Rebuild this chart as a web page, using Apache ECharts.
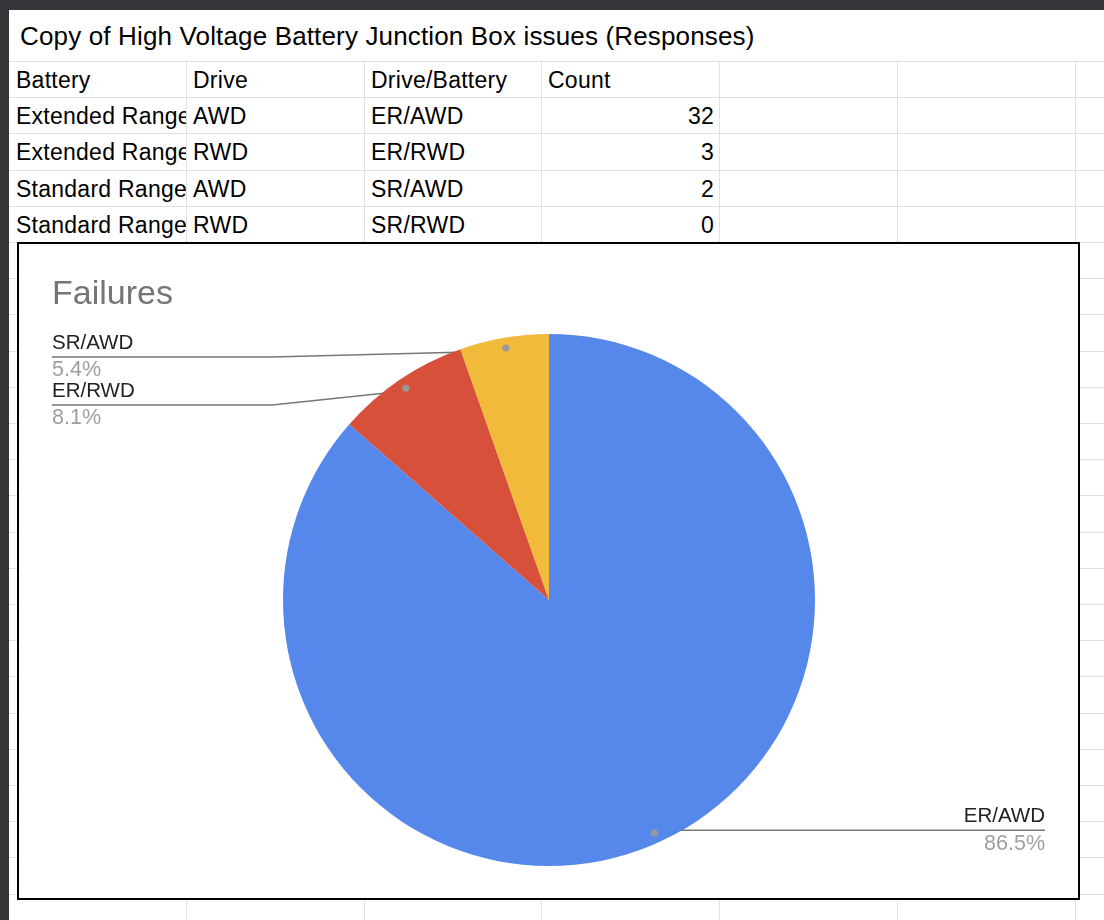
<!DOCTYPE html>
<html><head><meta charset="utf-8">
<script src="https://cdn.jsdelivr.net/npm/echarts@6/dist/echarts.min.js"></script>
<style>
html,body{margin:0;padding:0;width:1104px;height:920px;overflow:hidden;background:#35363a;font-family:"Liberation Sans",Arial,sans-serif;}
#sheet{position:absolute;left:9px;top:10px;width:1095px;height:910px;background:#fff;}
.hl{position:absolute;height:1px;background:#e0e0e0;}
.vl{position:absolute;width:1px;background:#e0e0e0;}
.cell{position:absolute;font-size:23px;letter-spacing:0.25px;color:#000;white-space:nowrap;overflow:hidden;line-height:36px;height:36px;}
.title{position:absolute;left:20px;top:18px;font-size:26px;letter-spacing:0.15px;color:#000;white-space:nowrap;line-height:36px;}
#chart{position:absolute;left:17px;top:242px;width:1063px;height:658px;box-sizing:border-box;border:2px solid #000;background:#fff;}
</style>
</head><body>
<div id="sheet"></div>
<div id="grid"></div>
<div class="title">Copy of High Voltage Battery Junction Box issues (Responses)</div>
<div id="cells"></div>
<div id="chart"></div>
<script>
// ---- data ----
const headers = ['Battery', 'Drive', 'Drive/Battery', 'Count'];
const batteries = ['Extended Range', 'Extended Range', 'Standard Range', 'Standard Range'];
const drives = ['AWD', 'RWD', 'AWD', 'RWD'];
const categories = ['ER/AWD', 'ER/RWD', 'SR/AWD', 'SR/RWD'];
const counts = [32, 3, 2, 0];
const chartTitle = 'Failures';

// ---- spreadsheet background ----
const FONT = '"Liberation Sans", Arial, sans-serif';
const colX = [9, 186, 364, 541, 719, 897, 1075];
const rowTop = 61, rowH = 36.2;
const grid = document.getElementById('grid');
let html = '';
for (let y = rowTop; y < 920; y += rowH) {
  html += '<div class="hl" style="left:9px;top:' + Math.round(y) + 'px;width:1095px"></div>';
}
for (let i = 1; i < colX.length; i++) {
  html += '<div class="vl" style="left:' + colX[i] + 'px;top:' + rowTop + 'px;height:' + (920 - rowTop) + 'px"></div>';
}
grid.innerHTML = html;

const rows = [headers];
for (let i = 0; i < categories.length; i++) rows.push([batteries[i], drives[i], categories[i], String(counts[i])]);
let ch = '';
rows.forEach((r, ri) => {
  const top = Math.round(rowTop + ri * rowH) + 1;
  r.forEach((t, ci) => {
    const isNum = ri > 0 && ci === 3;
    const left = colX[ci] + 1, w = colX[ci + 1] - colX[ci] - 1;
    ch += '<div class="cell" style="left:' + left + 'px;top:' + top + 'px;width:' + w + 'px;' +
      (isNum ? 'text-align:right;box-sizing:border-box;padding-right:5px;' : 'box-sizing:border-box;padding-left:6px;') +
      '">' + t + '</div>';
  });
});
document.getElementById('cells').innerHTML = ch;

// ---- chart ----
const colors = ['#5588ea', '#d6503a', '#f2ba3a', '#0f9d58'];
const pieData = categories.map((c, i) => ({ name: c, value: counts[i], itemStyle: { color: colors[i] } }))
  .filter(d => d.value > 0);

const CX = 530, CY = 356, R = 266;
const leftX = 33, rightX = 1026, leftBend = 253, rightBend = 806, topLimit = 113;
const total = pieData.reduce((s, d) => s + d.value, 0);
let cum = 0;
const layout = pieData.map(d => {
  const mid = (cum + d.value / 2) / total * Math.PI * 2;
  cum += d.value;
  const ax = CX + 0.95 * R * Math.sin(mid), ay = CY - 0.95 * R * Math.cos(mid);
  return { ax, ay, left: Math.sin(mid) < 0 };
});
const stack = (idx) => {
  let prev = -Infinity;
  idx.sort((a, b) => layout[a].ay - layout[b].ay).forEach(i => {
    const y = Math.max(layout[i].ay, prev + 48, topLimit); layout[i].lineY = y; prev = y;
  });
};
stack(layout.map((l, i) => i).filter(i => layout[i].left));
stack(layout.map((l, i) => i).filter(i => !layout[i].left));

const chart = echarts.init(document.getElementById('chart'));
chart.setOption({
  animation: false,
  backgroundColor: '#fff',
  title: {
    text: chartTitle, left: 28, top: 29,
    textStyle: { fontSize: 34, color: '#757575', fontWeight: 'normal', fontFamily: FONT }
  },
  series: [{
    type: 'pie',
    center: [CX, CY],
    radius: R,
    startAngle: 90,
    clockwise: true,
    percentPrecision: 1,
    data: pieData,
    itemStyle: { borderWidth: 0 },
    label: {
      show: true,
      position: 'outside',
      formatter: '{n|{b}}\n{p|{d}%}',
      fontFamily: FONT,
      rich: {
        n: { fontSize: 20.5, color: '#222222', lineHeight: 27, fontFamily: FONT },
        p: { fontSize: 21.5, color: '#9e9e9e', lineHeight: 27, fontFamily: FONT }
      }
    },
    labelLine: { show: true, lineStyle: { color: '#777777', width: 1.5 } },
    labelLayout: function (params) {
      const L = layout[params.dataIndex];
      if (!L) return {};
      const ex = L.left ? leftX : rightX;
      const bx = L.left ? leftBend : rightBend;
      return {
        x: ex, y: L.lineY, align: L.left ? 'left' : 'right', verticalAlign: 'middle',
        labelLinePoints: [[L.ax, L.ay], [bx, L.lineY], [ex, L.lineY]]
      };
    },
    emphasis: { disabled: true }
  }, {
    type: 'pie',
    center: [CX, CY],
    radius: [0.95 * R - 4, 0.95 * R + 4],
    startAngle: 90,
    clockwise: true,
    silent: true,
    z: 5,
    data: pieData.map(d => ({ name: d.name, value: d.value })),
    itemStyle: { color: 'rgba(0,0,0,0)', borderWidth: 0 },
    label: {
      show: true, position: 'inside', formatter: '{dot|}',
      rich: { dot: { width: 7, height: 7, borderRadius: 3.5, backgroundColor: '#999999' } }
    },
    labelLine: { show: false },
    emphasis: { disabled: true }
  }]
});
</script>
</body></html>
